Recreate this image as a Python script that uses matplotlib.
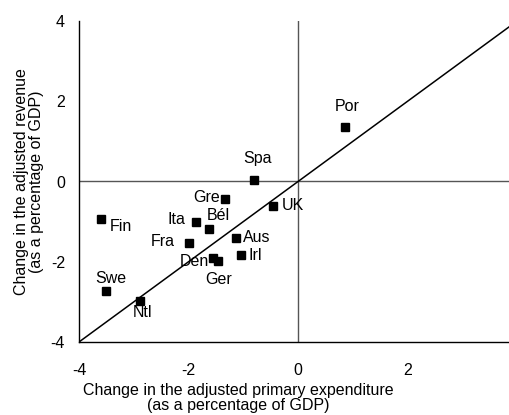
import numpy as np
import matplotlib
matplotlib.use('Agg')
import matplotlib.pyplot as plt

# ── data ──
countries = ['Spa', 'Gre', 'UK', 'Fin', 'Ita', 'Bél', 'Fra', 'Aus',
             'Irl', 'Den', 'Ger', 'Swe', 'Ntl', 'Por']
expenditure = [-0.80, -1.33, -0.45, -3.59, -1.86, -1.63, -1.99, -1.14,
               -1.05, -1.56, -1.47, -3.50, -2.88, 0.86]
revenue = [0.04, -0.43, -0.60, -0.93, -1.00, -1.18, -1.53, -1.40,
           -1.83, -1.90, -1.98, -2.73, -2.98, 1.37]
x_ticks = [-4, -2, 0, 2]
y_ticks = [-4, -2, 0, 2, 4]

# label placement: (dx px, dy px, ha)
place = {
    'Spa': (3, 21, 'center'), 'Gre': (-5, 1, 'right'), 'UK': (8, 0, 'left'),
    'Fin': (8, -8, 'left'), 'Ita': (-11, 2, 'right'), 'Bél': (-2, 13, 'left'),
    'Fra': (-14, 1, 'right'), 'Aus': (7, 0, 'left'), 'Irl': (8, -1, 'left'),
    'Den': (-4, -4, 'right'), 'Ger': (1, -19, 'center'), 'Swe': (4, 13, 'center'),
    'Ntl': (2, -11, 'center'), 'Por': (2, 20, 'center'),
}

plt.rcParams['font.family'] = ['Liberation Sans', 'DejaVu Sans']
plt.rcParams['font.size'] = 11.5
plt.rcParams['axes.unicode_minus'] = False

fig = plt.figure(figsize=(5.1, 4.15), dpi=100)
ax = fig.add_axes([79 / 510, 73 / 415, 431 / 510, 321 / 415])

ax.set_xlim(-4, 3.87)
ax.set_ylim(-4, 4)

# reference lines
ax.axhline(0, color='#555555', lw=1.0, zorder=1)
ax.axvline(0, color='#555555', lw=1.0, zorder=1)
ax.axline((0, 0), slope=1, color='black', lw=1.1, zorder=2)

ax.plot(expenditure, revenue, 's', color='black', ms=5.2, zorder=3, clip_on=False)

for name, xv, yv in zip(countries, expenditure, revenue):
    dx, dy, ha = place[name]
    ax.annotate(name, (xv, yv), xytext=(dx, dy), textcoords='offset pixels',
                ha=ha, va='center', fontsize=11.5)

for s in ['top', 'right']:
    ax.spines[s].set_visible(False)
ax.spines['left'].set_linewidth(1.0)
ax.spines['bottom'].set_linewidth(1.0)

ax.set_xticks(x_ticks)
ax.set_yticks(y_ticks)
ax.tick_params(length=0)
ax.tick_params(axis='x', pad=15)
ax.tick_params(axis='y', pad=10)

ax.set_xlabel('Change in the adjusted primary expenditure\n(as a percentage of GDP)',
              fontsize=11.5, linespacing=1.0)
ax.xaxis.set_label_coords((238 - 79) / 431, -(383 - 342) / 321)
ax.set_ylabel('Change in the adjusted revenue\n(as a percentage of GDP)',
              fontsize=11.5, linespacing=1.0)
ax.yaxis.set_label_coords(-(79 - 44) / 431, 0.5)

fig.savefig('out.png', dpi=100)
